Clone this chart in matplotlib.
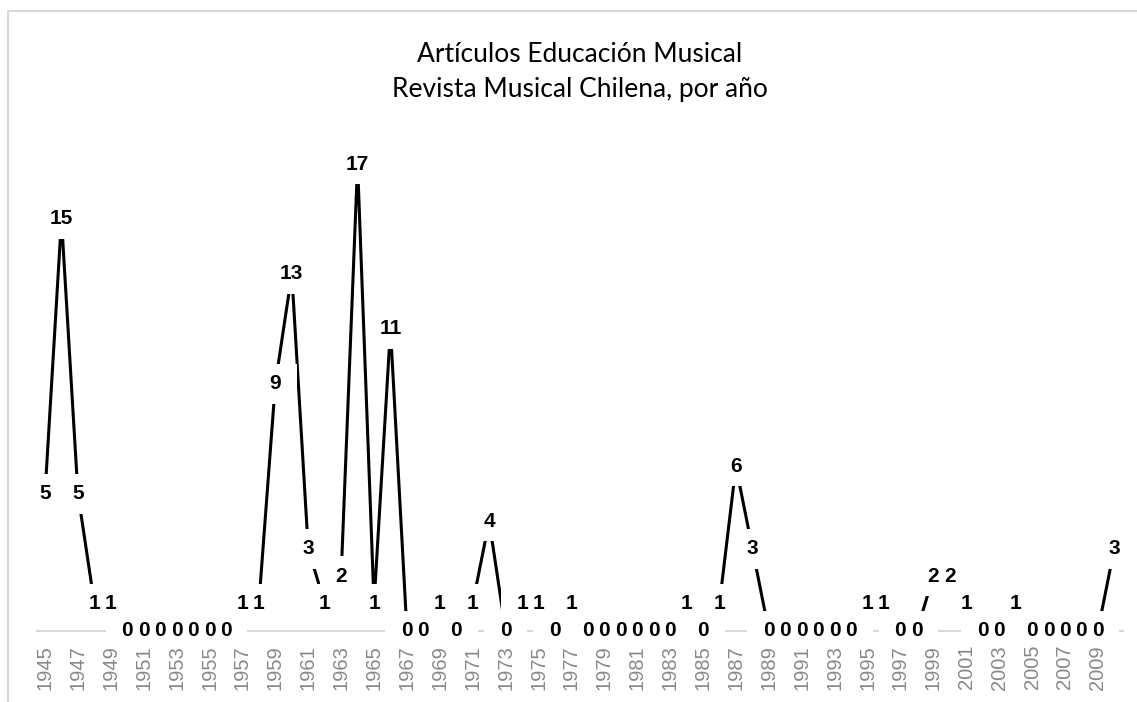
import matplotlib
matplotlib.use('Agg')
import matplotlib.pyplot as plt
from matplotlib.patches import Rectangle

# data
years = list(range(1945, 2011))
articles = [5, 15, 5, 1, 1, 0, 0, 0, 0, 0,
            0, 0, 1, 1, 9, 13, 3, 1, 2, 17,
            1, 11, 0, 0, 1, 0, 1, 4, 0, 1,
            1, 0, 1, 0, 0, 0, 0, 0, 0, 1,
            0, 1, 6, 3, 0, 0, 0, 0, 0, 0,
            1, 1, 0, 0, 2, 2, 1, 0, 0, 1,
            0, 0, 0, 0, 0, 3]
title1 = 'Artículos Educación Musical'
title2 = 'Revista Musical Chilena, por año'

W, H = 1137, 702
fig = plt.figure(figsize=(W / 100, H / 100), dpi=100)

# plot area (pixel layout)
x_left, x_right = 36.8, 1122.5
y_zero, px_per_unit = 631, 27.47
ymax = 18
ax = fig.add_axes([x_left / W, (H - y_zero) / H,
                   (x_right - x_left) / W, ymax * px_per_unit / H])

x = list(range(len(years)))
ax.plot(x, articles, color='black', lw=2.2, zorder=2.6, solid_joinstyle='round')

ax.set_xlim(-0.5, len(years) - 0.5)
ax.set_ylim(0, ymax)

# white boxes behind the labels, then the labels
box_w = 43 / ((x_right - x_left) / len(years))
box_h = 40 / px_per_unit
for i, v in zip(x, articles):
    ax.add_patch(Rectangle((i - box_w / 2, v - box_h / 2), box_w, box_h,
                           fc='white', ec='none', zorder=3, clip_on=False))
for i, v in zip(x, articles):
    ax.text(i, v, str(v), ha='center', va='center', fontsize=15,
            fontweight='bold', family='Liberation Sans', color='black',
            zorder=4, clip_on=False)

# axes style
for s in ['left', 'right', 'top']:
    ax.spines[s].set_visible(False)
ax.spines['bottom'].set_color('#d9d9d9')
ax.spines['bottom'].set_linewidth(1.5)
ax.set_yticks([])
ax.set_xticks(x[::2])
ax.set_xticklabels([str(y) for y in years[::2]], rotation=90,
                   fontsize=14.5, family='Liberation Sans', color='#888888')
ax.tick_params(axis='x', length=0, pad=10)
ax.xaxis.set_zorder(5)

# titles
fig.text(580 / W, 1 - 62 / H, title1, ha='center', va='baseline',
         fontsize=19, family='Lato')
fig.text(580 / W, 1 - 97 / H, title2, ha='center', va='baseline',
         fontsize=19, family='Lato')

# chart border
fig.add_artist(Rectangle((8 / W, -0.1), 2, 1 - 11 / H + 0.1,
                         transform=fig.transFigure, fill=False,
                         ec='#d9d9d9', lw=1.5))

fig.savefig('out.png', dpi=100, facecolor='white')
